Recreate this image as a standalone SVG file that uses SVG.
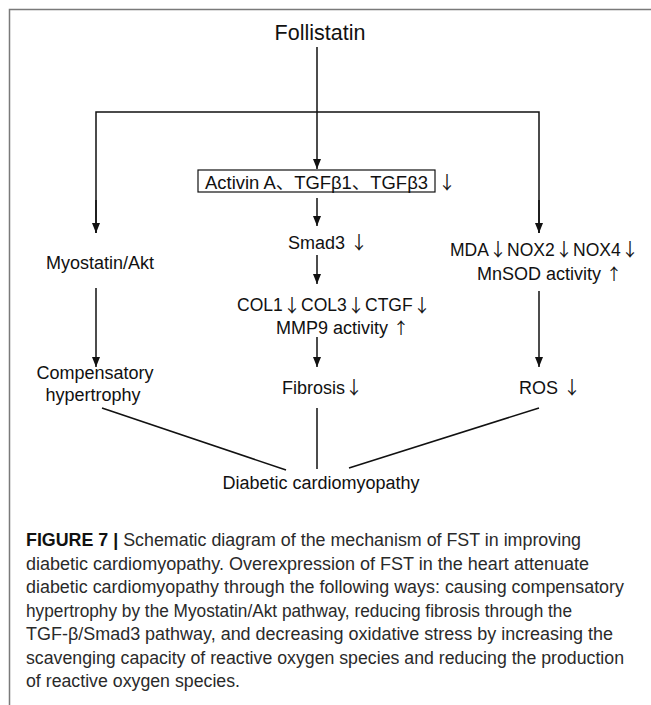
<svg xmlns="http://www.w3.org/2000/svg" width="651" height="705" viewBox="0 0 651 705">
<defs>
<marker id="ah" viewBox="0 0 10 8" refX="10" refY="4" markerWidth="10" markerHeight="8" markerUnits="userSpaceOnUse" orient="auto">
<path d="M0,0 L10,4 L0,8 z" fill="#111"/>
</marker>
<style>
.t{font-family:"Liberation Sans",Arial,"DejaVu Sans",sans-serif;font-size:18px;fill:#111}
.s{font-size:17.5px}
.a{font-family:"Noto Sans CJK SC","Liberation Sans",sans-serif;font-size:18px;opacity:0.99}
.u{font-family:"Noto Sans CJK SC","Liberation Sans",sans-serif;font-size:16px}
.c{font-family:"Liberation Sans",Arial,"DejaVu Sans",sans-serif;font-size:17.5px;fill:#2a2a2a}
.b{font-weight:bold;fill:#111}
.ln{stroke:#111;stroke-width:1.5;fill:none}
.ar{stroke:#111;stroke-width:1.5;fill:none;marker-end:url(#ah)}
.frame{stroke:#7a7a7a;stroke-width:1.5;fill:none}
</style>
</defs>
<rect width="651" height="705" fill="#fff"/>
<path class="frame" d="M9.5,705 V9.5 H651"/>

<g id="connectors">
<line class="ar" x1="317" y1="47" x2="317" y2="169"/>
<path class="ln" d="M96,233 V112 H539 V233"/>
<line class="ar" x1="96" y1="200" x2="96" y2="233"/>
<line class="ar" x1="539" y1="200" x2="539" y2="233"/>
<line class="ar" x1="317" y1="198" x2="317" y2="226"/>
<line class="ar" x1="317" y1="255" x2="317" y2="284"/>
<line class="ar" x1="317" y1="337" x2="317" y2="367"/>
<line class="ar" x1="96" y1="288" x2="96" y2="367"/>
<line class="ar" x1="539" y1="291" x2="539" y2="367"/>
<line class="ln" x1="102" y1="408" x2="286" y2="470"/>
<line class="ln" x1="317" y1="408" x2="317" y2="469"/>
<line class="ln" x1="539" y1="408" x2="349" y2="468"/>
</g>

<g id="follistatin"><text class="t" x="320" y="40" text-anchor="middle" style="font-size:21.5px">Follistatin</text></g>

<g id="activin">
<rect x="198" y="170" width="237" height="22" fill="none" stroke="#111" stroke-width="1.2"/>
<text class="t" x="205" y="188.5" textLength="223" lengthAdjust="spacingAndGlyphs" style="font-family:'Liberation Sans','Noto Sans CJK SC',sans-serif">Activin A、TGFβ1、TGFβ3</text>
<text class="t a" x="447" y="189" text-anchor="middle">↓</text>
</g>

<g id="smad3"><text class="t" x="288" y="248.5">Smad3 <tspan class="a">↓</tspan></text></g>

<g id="col">
<text class="t s" x="237" y="310.5">COL1</text>
<text class="t a" x="283" y="311.5">↓</text>
<text class="t s" x="301" y="310.5">COL3</text>
<text class="t a" x="347" y="311.5">↓</text>
<text class="t s" x="365" y="310.5">CTGF</text>
<text class="t a" x="413" y="311.5">↓</text>
<text class="t" x="276" y="333.5">MMP9 activity <tspan class="u">↑</tspan></text>
</g>

<g id="fibrosis">
<text class="t" x="282" y="393.5">Fibrosis</text>
<text class="t a" x="345" y="394">↓</text>
</g>

<g id="myostatin"><text class="t" x="100" y="268.5" text-anchor="middle">Myostatin/Akt</text></g>

<g id="hypertrophy"><text class="t" x="95" y="379" text-anchor="middle">Compensatory</text>
<text class="t" x="93" y="401" text-anchor="middle">hypertrophy</text></g>

<g id="mda">
<text class="t s" x="450" y="255.5">MDA</text>
<text class="t a" x="489" y="256">↓</text>
<text class="t s" x="507" y="255.5">NOX2</text>
<text class="t a" x="555" y="256">↓</text>
<text class="t s" x="573" y="255.5">NOX4</text>
<text class="t a" x="621" y="256">↓</text>
<text class="t" x="477" y="280">MnSOD activity <tspan class="u">↑</tspan></text>
</g>

<g id="ros"><text class="t" x="519" y="393.5">ROS <tspan class="a">↓</tspan></text></g>

<g id="dcm"><text class="t" x="321" y="489" text-anchor="middle">Diabetic cardiomyopathy</text></g>

<g id="caption">
<text class="c" x="26" y="546" textLength="555" lengthAdjust="spacingAndGlyphs"><tspan class="b">FIGURE 7 |</tspan> Schematic diagram of the mechanism of FST in improving</text>
<text class="c" x="26" y="569.5" textLength="563" lengthAdjust="spacingAndGlyphs">diabetic cardiomyopathy. Overexpression of FST in the heart attenuate</text>
<text class="c" x="26" y="593" textLength="598" lengthAdjust="spacingAndGlyphs">diabetic cardiomyopathy through the following ways: causing compensatory</text>
<text class="c" x="26" y="616.5" textLength="546" lengthAdjust="spacingAndGlyphs">hypertrophy by the Myostatin/Akt pathway, reducing fibrosis through the</text>
<text class="c" x="26" y="640" textLength="587" lengthAdjust="spacingAndGlyphs">TGF-β/Smad3 pathway, and decreasing oxidative stress by increasing the</text>
<text class="c" x="26" y="663.5" textLength="598" lengthAdjust="spacingAndGlyphs">scavenging capacity of reactive oxygen species and reducing the production</text>
<text class="c" x="26" y="687" textLength="214" lengthAdjust="spacingAndGlyphs">of reactive oxygen species.</text>
</g>
</svg>
